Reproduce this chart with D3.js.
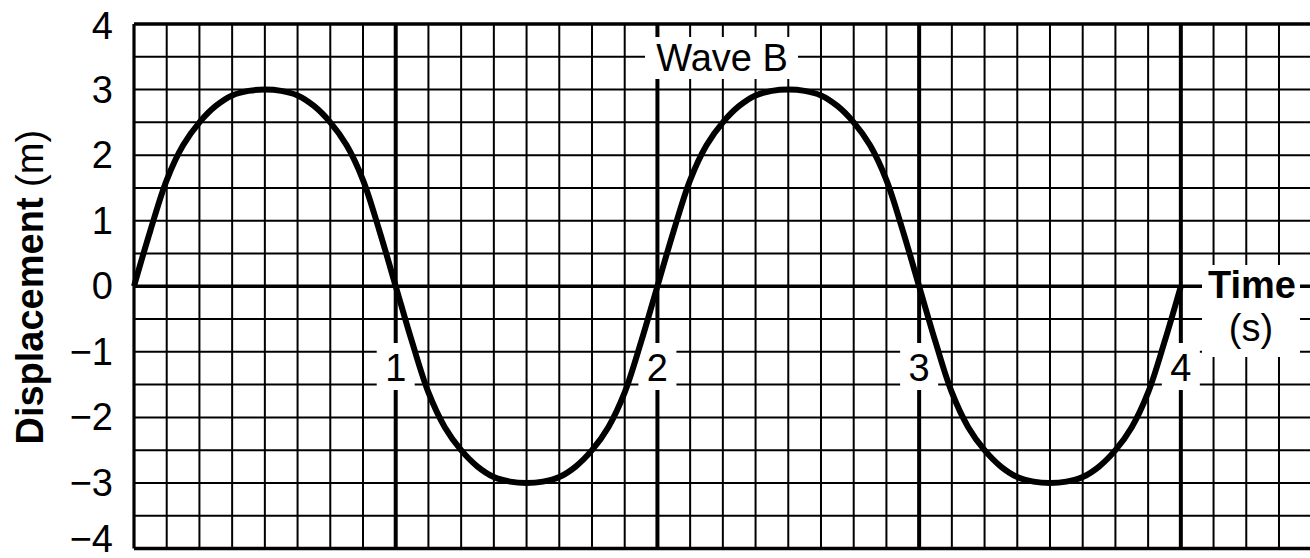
<!DOCTYPE html>
<html>
<head>
<meta charset="utf-8">
<script src="https://cdn.jsdelivr.net/npm/d3@7"></script>
<style>
  body { margin: 0; background: #fff; }
  svg { display: block; }
  text { font-family: "Liberation Sans", Arial, Helvetica, sans-serif; fill: #000; }
</style>
</head>
<body>
<svg id="chart" width="1310" height="558"></svg>
<script>
// Wave B, every 1/16 s
const times = [0, 0.0625, 0.125, 0.1875, 0.25, 0.3125, 0.375, 0.4375,
               0.5, 0.5625, 0.625, 0.6875, 0.75, 0.8125, 0.875, 0.9375,
               1, 1.0625, 1.125, 1.1875, 1.25, 1.3125, 1.375, 1.4375,
               1.5, 1.5625, 1.625, 1.6875, 1.75, 1.8125, 1.875, 1.9375,
               2, 2.0625, 2.125, 2.1875, 2.25, 2.3125, 2.375, 2.4375,
               2.5, 2.5625, 2.625, 2.6875, 2.75, 2.8125, 2.875, 2.9375,
               3, 3.0625, 3.125, 3.1875, 3.25, 3.3125, 3.375, 3.4375,
               3.5, 3.5625, 3.625, 3.6875, 3.75, 3.8125, 3.875, 3.9375, 4];
const displacement = [0, 0.85, 1.62, 2.15, 2.5, 2.75, 2.91, 2.98,
                      3, 2.98, 2.91, 2.75, 2.5, 2.15, 1.62, 0.85,
                      0, -0.85, -1.62, -2.15, -2.5, -2.75, -2.91, -2.98,
                      -3, -2.98, -2.91, -2.75, -2.5, -2.15, -1.62, -0.85,
                      0, 0.85, 1.62, 2.15, 2.5, 2.75, 2.91, 2.98,
                      3, 2.98, 2.91, 2.75, 2.5, 2.15, 1.62, 0.85,
                      0, -0.85, -1.62, -2.15, -2.5, -2.75, -2.91, -2.98,
                      -3, -2.98, -2.91, -2.75, -2.5, -2.15, -1.62, -0.85, 0];

const yTicks = [4, 3, 2, 1, 0, -1, -2, -3, -4];
const xTicks = [1, 2, 3, 4];
const xTickLabels = ["1", "2", "3", "4"];
const waveTitle = "Wave B";

const svg = d3.select("#chart");

// scales
const x = d3.scaleLinear().domain([0, 4.5]).range([134, 1311.7]);
const y = d3.scaleLinear().domain([-4, 4]).range([548.5, 24]);

// grid, 1/8 s by 0.5 m
const grid = svg.append("g");
const vLines = d3.range(0, 4.5001, 0.125);
const hLines = d3.range(-4, 4.001, 0.5);

grid.selectAll(".v").data(vLines).join("line")
    .attr("x1", d => x(d)).attr("x2", d => x(d))
    .attr("y1", y(4)).attr("y2", y(-4))
    .attr("stroke", "#000")
    .attr("stroke-width", d => d === 0 ? 3.2 : (Number.isInteger(d) ? 4 : 2));

grid.selectAll(".h").data(hLines).join("line")
    .attr("x1", x(0)).attr("x2", x(4.5))
    .attr("y1", d => y(d)).attr("y2", d => y(d))
    .attr("stroke", "#000")
    .attr("stroke-width", d => (d === 0 || d === 4 || d === -4) ? 3.6 : 2);

// white label boxes that break the grid
const boxes = svg.append("g").attr("fill", "#fff");
boxes.selectAll("rect.xl").data(xTicks).join("rect")
    .attr("x", d => x(d) - 19).attr("y", 343)
    .attr("width", 38).attr("height", 47);
boxes.append("rect").attr("x", 645).attr("y", 37).attr("width", 153).attr("height", 42);
boxes.append("rect").attr("x", 1202).attr("y", 265).attr("width", 98).attr("height", 92);

// y axis labels
const yAxis = d3.axisLeft(y)
    .tickValues(yTicks)
    .tickSize(0)
    .tickPadding(0)
    .tickFormat(d => d < 0 ? "\u2212" + Math.abs(d) : String(d));
const yg = svg.append("g").attr("transform", "translate(113,0)").call(yAxis);
yg.select(".domain").remove();
yg.selectAll("text")
    .attr("font-size", 38)
    .attr("font-family", "Liberation Sans, Arial, sans-serif")
    .attr("fill", "#000")
    .attr("dy", d => d === 4 ? 14.5 : (d === -4 ? 2.5 : 12.5));

// x labels
svg.append("g").selectAll("text").data(xTicks).join("text")
    .attr("x", d => x(d)).attr("y", 381)
    .attr("text-anchor", "middle")
    .attr("font-size", 38)
    .text((d, i) => xTickLabels[i]);

// titles
svg.append("text")
    .attr("x", 722).attr("y", 71)
    .attr("text-anchor", "middle")
    .attr("font-size", 38)
    .text(waveTitle);

svg.append("text")
    .attr("x", 1252).attr("y", 298)
    .attr("text-anchor", "middle")
    .attr("font-size", 38).attr("font-weight", "bold")
    .text("Time");
svg.append("text")
    .attr("x", 1251).attr("y", 341)
    .attr("text-anchor", "middle")
    .attr("font-size", 38)
    .text("(s)");

const yTitle = svg.append("text")
    .attr("transform", "translate(43," + (y(0) + 1) + ") rotate(-90)")
    .attr("text-anchor", "middle")
    .attr("font-size", 38);
yTitle.append("tspan").attr("font-weight", "bold").text("Displacement");
yTitle.append("tspan").text(" (m)");

// wave
const line = d3.line()
    .x(d => x(d[0]))
    .y(d => y(d[1]))
    .curve(d3.curveCatmullRom.alpha(0.5));

svg.append("path")
    .datum(times.map((t, i) => [t, displacement[i]]))
    .attr("d", line)
    .attr("fill", "none")
    .attr("stroke", "#000")
    .attr("stroke-width", 6)
    .attr("stroke-linejoin", "round");
</script>
</body>
</html>
